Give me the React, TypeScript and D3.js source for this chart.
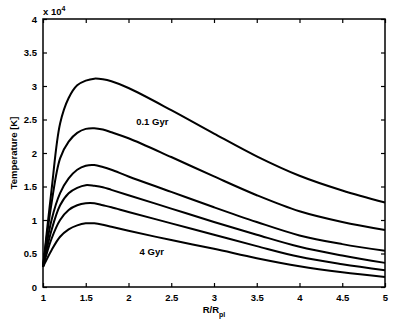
import React, { useEffect, useRef } from "react";
import * as d3 from "d3";

// R/R_pl samples
const radius = [1, 1.1, 1.2, 1.3, 1.4, 1.5, 1.6, 1.7, 1.8, 2, 2.5, 3, 3.5, 4, 4.5, 5];

// temperatures in units of 1e4 K, from youngest (0.1 Gyr) to oldest (4 Gyr)
const temp01 = [0.3, 1.45, 2.44, 2.82, 3.01, 3.08, 3.11, 3.1, 3.07, 2.97, 2.64, 2.29, 1.95, 1.66, 1.44, 1.26];
const temp2 = [0.3, 1.25, 1.92, 2.17, 2.3, 2.36, 2.37, 2.35, 2.31, 2.22, 1.94, 1.65, 1.37, 1.13, 0.97, 0.85];
const temp3 = [0.3, 1.0, 1.4, 1.62, 1.75, 1.81, 1.82, 1.79, 1.75, 1.65, 1.42, 1.19, 0.97, 0.77, 0.64, 0.54];
const temp4 = [0.3, 0.85, 1.22, 1.4, 1.48, 1.52, 1.51, 1.49, 1.45, 1.37, 1.17, 0.97, 0.78, 0.6, 0.47, 0.36];
const temp5 = [0.3, 0.72, 1.0, 1.15, 1.22, 1.25, 1.25, 1.22, 1.19, 1.12, 0.95, 0.78, 0.61, 0.45, 0.34, 0.25];
const temp4Gyr = [0.3, 0.55, 0.75, 0.86, 0.92, 0.95, 0.95, 0.93, 0.9, 0.84, 0.7, 0.57, 0.43, 0.31, 0.22, 0.15];

const series = [temp01, temp2, temp3, temp4, temp5, temp4Gyr];

const xTicks = [1, 1.5, 2, 2.5, 3, 3.5, 4, 4.5, 5];
const yTicks = [0, 0.5, 1, 1.5, 2, 2.5, 3, 3.5, 4];

const labels = [
  { text: "0.1 Gyr", x: 2.09, y: 2.42 },
  { text: "4 Gyr", x: 2.13, y: 0.48 },
];

const App = () => {
  const ref = useRef<SVGSVGElement | null>(null);

  useEffect(() => {
    const width = 399;
    const height = 326;
    const margin = { top: 19, right: 14, bottom: 39, left: 43 };
    const font = "'Liberation Sans', Arial, Helvetica, sans-serif";

    const svg = d3.select(ref.current);
    svg.selectAll("*").remove();
    svg.attr("width", width).attr("height", height);

    const x = d3.scaleLinear().domain([1, 5]).range([margin.left, width - margin.right]);
    const y = d3.scaleLinear().domain([0, 4]).range([height - margin.bottom, margin.top]);

    svg.append("rect").attr("width", width).attr("height", height).attr("fill", "#fff");

    const line = d3
      .line<number>()
      .x((_, i) => x(radius[i]))
      .y((d) => y(d))
      .curve(d3.curveCatmullRom.alpha(0.5));

    svg
      .append("g")
      .selectAll("path")
      .data(series)
      .enter()
      .append("path")
      .attr("d", (d) => line(d))
      .attr("fill", "none")
      .attr("stroke", "#000")
      .attr("stroke-width", 2)
      .attr("stroke-linejoin", "round");

    // axes: ticks pointing inward on all four sides
    const tickStyle = (g: d3.Selection<SVGGElement, unknown, null, undefined>) => {
      g.select(".domain").remove();
      g.selectAll("line").attr("stroke", "#000").attr("stroke-width", 1.2);
      g.selectAll("text")
        .attr("font-family", font)
        .attr("font-weight", "bold")
        .attr("font-size", 9.5)
        .attr("fill", "#000");
    };

    svg
      .append("g")
      .attr("transform", `translate(0,${y(0)})`)
      .call(d3.axisBottom(x).tickValues(xTicks).tickSize(-4).tickPadding(7).tickFormat(d3.format("")))
      .call(tickStyle);
    svg
      .append("g")
      .attr("transform", `translate(0,${y(4)})`)
      .call(d3.axisTop(x).tickValues(xTicks).tickSize(-4).tickFormat(() => ""))
      .call(tickStyle);
    svg
      .append("g")
      .attr("transform", `translate(${x(1)},0)`)
      .call(d3.axisLeft(y).tickValues(yTicks).tickSize(-4).tickPadding(6).tickFormat(d3.format("")))
      .call(tickStyle);
    svg
      .append("g")
      .attr("transform", `translate(${x(5)},0)`)
      .call(d3.axisRight(y).tickValues(yTicks).tickSize(-4).tickFormat(() => ""))
      .call(tickStyle);

    svg
      .append("rect")
      .attr("x", x(1))
      .attr("y", y(4))
      .attr("width", x(5) - x(1))
      .attr("height", y(0) - y(4))
      .attr("fill", "none")
      .attr("stroke", "#000")
      .attr("stroke-width", 1.5);

    // exponent note
    const ex = svg
      .append("text")
      .attr("x", x(1))
      .attr("y", y(4) - 4)
      .attr("font-family", font)
      .attr("font-weight", "bold")
      .attr("font-size", 9.5);
    ex.append("tspan").text("x 10");
    ex.append("tspan").attr("dy", -4).attr("font-size", 7).text("4");

    svg
      .append("g")
      .selectAll("text")
      .data(labels)
      .enter()
      .append("text")
      .attr("x", (d) => x(d.x))
      .attr("y", (d) => y(d.y))
      .attr("font-family", font)
      .attr("font-weight", "bold")
      .attr("font-size", 9.5)
      .text((d) => d.text);

    const xl = svg
      .append("text")
      .attr("x", (x(1) + x(5)) / 2)
      .attr("y", 313)
      .attr("text-anchor", "middle")
      .attr("font-family", font)
      .attr("font-weight", "bold")
      .attr("font-size", 9.5);
    xl.append("tspan").text("R/R");
    xl.append("tspan").attr("dy", 4).attr("font-size", 7).text("pl");

    svg
      .append("text")
      .attr("transform", `translate(17,${(y(0) + y(4)) / 2}) rotate(-90)`)
      .attr("text-anchor", "middle")
      .attr("font-family", font)
      .attr("font-weight", "bold")
      .attr("font-size", 9.5)
      .text("Temperature [K]");
  }, []);

  return <svg ref={ref} style={{ position: "absolute", left: 0, top: 0 }} />;
};

export default App;
